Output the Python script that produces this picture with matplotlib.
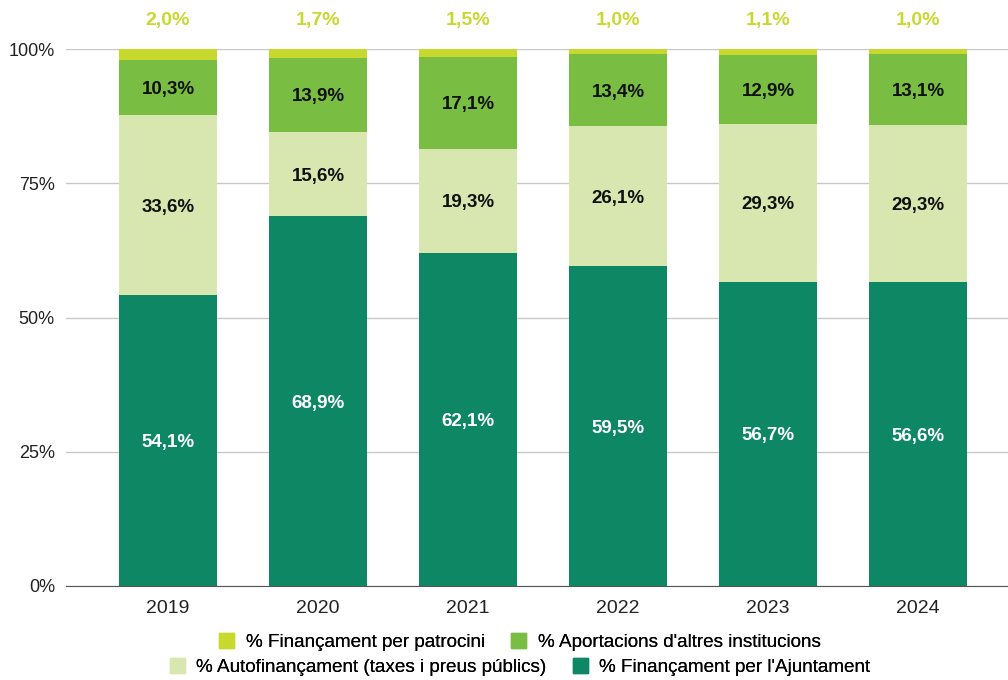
import numpy as np
import matplotlib
matplotlib.use('agg')
import matplotlib.pyplot as plt
from matplotlib.patches import Patch

plt.rcParams['font.family'] = ['Liberation Sans', 'DejaVu Sans']

years = ['2019', '2020', '2021', '2022', '2023', '2024']
ajuntament = [54.1, 68.9, 62.1, 59.5, 56.7, 56.6]
autofinancament = [33.6, 15.6, 19.3, 26.1, 29.3, 29.3]
aportacions = [10.3, 13.9, 17.1, 13.4, 12.9, 13.1]
patrocini = [2.0, 1.7, 1.5, 1.0, 1.1, 1.0]

series = [
    ('% Finançament per l\'Ajuntament', ajuntament, '#0e8764', 'white'),
    ('% Autofinançament (taxes i preus públics)', autofinancament, '#d8e7af', '#111111'),
    ('% Aportacions d\'altres institucions', aportacions, '#79be43', '#111111'),
    ('% Finançament per patrocini', patrocini, '#c8d92e', None),
]

fig = plt.figure(figsize=(10.08, 6.8), dpi=100)
ax = fig.add_axes([66 / 1008, 1 - 586 / 680, 942 / 1008, 537 / 680])

x = np.arange(len(years))
bottom = np.zeros(len(years))
handles = {}
for name, vals, color, tcolor in series:
    vals = np.array(vals)
    ax.bar(x, vals, 0.65, bottom=bottom, color=color, zorder=2)
    handles[name] = Patch(color=color)
    if tcolor is not None:
        for xi, b, v in zip(x, bottom, vals):
            ax.text(xi, b + v / 2, f'{v:.1f}%'.replace('.', ','), ha='center',
                    va='center_baseline', fontsize=13.5, fontweight='bold',
                    color=tcolor, zorder=3)
    bottom = bottom + vals

# sponsorship share written above the plot area
for xi, v in zip(x, patrocini):
    ax.text(xi, 105.6, f'{v:.1f}%'.replace('.', ','), ha='center', va='center_baseline',
            fontsize=14, fontweight='bold', color='#c8d92e', clip_on=False)

ax.set_xlim(-0.68, 5.6)
ax.set_ylim(0, 100)
ax.set_yticks([0, 25, 50, 75, 100])
ax.set_yticklabels(['0%', '25%', '50%', '75%', '100%'])
ax.set_xticks(x)
ax.set_xticklabels(years)
ax.tick_params(axis='both', length=0, colors='#222222')
ax.tick_params(axis='x', pad=10, labelsize=14)
ax.tick_params(axis='y', pad=8, labelsize=13)
ax.yaxis.grid(True, color='#c8c8c8', linewidth=1, zorder=0)
for s in ['top', 'right', 'left']:
    ax.spines[s].set_visible(False)
ax.spines['bottom'].set_color('#555555')
ax.spines['bottom'].set_zorder(4)

row1 = ['% Finançament per patrocini', '% Aportacions d\'altres institucions']
row2 = ['% Autofinançament (taxes i preus públics)', '% Finançament per l\'Ajuntament']
for row, ypos in [(row1, 1 - 642 / 680), (row2, 1 - 667 / 680)]:
    leg = fig.legend([handles[n] for n in row], row, ncol=2, loc='center',
                     bbox_to_anchor=(520 / 1008, ypos), frameon=False, fontsize=13.6,
                     handlelength=0.8, handleheight=0.8, handletextpad=0.6,
                     columnspacing=1.4, borderaxespad=0, borderpad=0)
    fig.add_artist(leg)

fig.savefig('out.png', dpi=100)
